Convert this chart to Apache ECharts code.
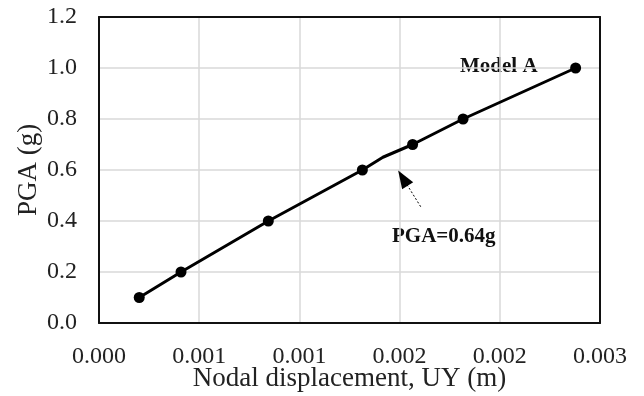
<!DOCTYPE html>
<html>
<head>
<meta charset="utf-8">
<script src="https://cdn.jsdelivr.net/npm/echarts@6/dist/echarts.min.js"></script>
<style>
html,body{margin:0;padding:0;background:#fff;}
#chart{width:644px;height:396px;}
</style>
</head>
<body>
<div id="chart"></div>
<script>
// Data
const dispUY = [0.000241, 0.000491, 0.001014, 0.001577, 0.001700, 0.001878, 0.002180, 0.002854];
const pgaG   = [0.1, 0.2, 0.4, 0.6, 0.65, 0.7, 0.8, 1.0];
const markerShown = [true, true, true, true, false, true, true, true];
const xTickLabels = ['0.000', '0.001', '0.001', '0.002', '0.002', '0.003'];
const yTickLabels = ['0.0', '0.2', '0.4', '0.6', '0.8', '1.0', '1.2'];
const arrowFrom = [0.0019263, 0.4561];
const arrowTo = [0.0018198, 0.5682];

const FONT = '"Liberation Serif", "Times New Roman", serif';
const chart = echarts.init(document.getElementById('chart'), null, {renderer: 'canvas'});

const seriesData = dispUY.map((x, i) => ({
  value: [x, pgaG[i]],
  symbolSize: markerShown[i] ? 11 : 0
}));

const X_INT = 0.0006, Y_INT = 0.2;
const option = {
  animation: false,
  backgroundColor: '#ffffff',
  grid: {left: 99, right: 44, top: 17, bottom: 73, containLabel: false, outerBoundsMode: 'none'},
  xAxis: [{
    type: 'value', min: 0, max: 0.003, interval: X_INT,
    position: 'bottom',
    name: 'Nodal displacement, UY (m)', nameLocation: 'middle', nameGap: 42,
    nameMoveOverlap: false,
    nameTextStyle: {fontFamily: FONT, fontSize: 27, color: '#222'},
    axisLine: {show: true, onZero: false, lineStyle: {color: '#111', width: 2}},
    axisTick: {show: false},
    axisLabel: {
      margin: 22, fontFamily: FONT, fontSize: 24, color: '#222',
      formatter: v => xTickLabels[Math.round(v / X_INT)]
    },
    splitLine: {show: true, lineStyle: {color: '#d9d9d9', width: 1.5}}
  }, {
    type: 'value', min: 0, max: 0.003, position: 'top',
    axisLine: {show: true, onZero: false, lineStyle: {color: '#111', width: 2}},
    axisTick: {show: false}, axisLabel: {show: false}, splitLine: {show: false}
  }],
  yAxis: [{
    type: 'value', min: 0, max: 1.2, interval: Y_INT,
    position: 'left',
    name: 'PGA (g)', nameLocation: 'middle', nameGap: 57, nameRotate: 90,
    nameMoveOverlap: false,
    nameTextStyle: {fontFamily: FONT, fontSize: 27, color: '#222'},
    axisLine: {show: true, onZero: false, lineStyle: {color: '#111', width: 2}},
    axisTick: {show: false},
    axisLabel: {
      margin: 22, fontFamily: FONT, fontSize: 24, color: '#222',
      formatter: v => yTickLabels[Math.round(v / Y_INT)]
    },
    splitLine: {show: true, lineStyle: {color: '#d9d9d9', width: 1.5}}
  }, {
    type: 'value', min: 0, max: 1.2, position: 'right',
    axisLine: {show: true, onZero: false, lineStyle: {color: '#111', width: 2}},
    axisTick: {show: false}, axisLabel: {show: false}, splitLine: {show: false}
  }],
  series: [{
    type: 'line',
    xAxisIndex: 0, yAxisIndex: 0,
    data: seriesData,
    symbol: 'circle',
    showAllSymbol: true,
    lineStyle: {color: '#000', width: 3},
    itemStyle: {color: '#000'},
    markLine: {
      silent: true,
      symbol: ['none', 'triangle'],
      symbolSize: [13, 18],
      label: {show: false},
      lineStyle: {color: '#000', width: 1, type: [2, 2]},
      data: [[{coord: arrowFrom, symbol: 'none'}, {coord: arrowTo, symbol: 'triangle'}]]
    }
  }],
  graphic: [{
    type: 'text', left: 460, top: 56,
    style: {text: 'Model A', font: 'bold 21px ' + FONT, fill: '#111'}
  }, {
    type: 'text', left: 392, top: 226,
    style: {text: 'PGA=0.64g', font: 'bold 21px ' + FONT, fill: '#111'}
  }]
};
chart.setOption(option);
</script>
</body>
</html>
